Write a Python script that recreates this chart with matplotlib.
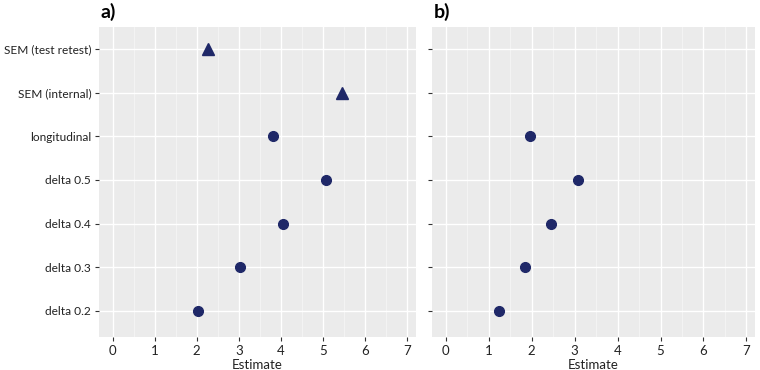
import matplotlib
matplotlib.use("Agg")
import matplotlib.pyplot as plt
from matplotlib.ticker import MultipleLocator

plt.rcParams['font.family'] = ['Lato', 'DejaVu Sans']

categories = ["delta 0.2", "delta 0.3", "delta 0.4", "delta 0.5",
              "longitudinal", "SEM (internal)", "SEM (test retest)"]
a_delta_cats = ["delta 0.2", "delta 0.3", "delta 0.4", "delta 0.5", "longitudinal"]
a_delta_vals = [2.03, 3.04, 4.05, 5.07, 3.82]
a_sem_cats = ["SEM (internal)", "SEM (test retest)"]
a_sem_vals = [5.45, 2.26]
b_cats = ["delta 0.2", "delta 0.3", "delta 0.4", "delta 0.5", "longitudinal"]
b_vals = [1.23, 1.84, 2.46, 3.08, 1.96]
x_ticks = [0, 1, 2, 3, 4, 5, 6, 7]
panel_labels = ["a)", "b)"]

color = "#1F2868"
ypos = {c: i + 1 for i, c in enumerate(categories)}

fig = plt.figure(figsize=(7.6, 3.7), dpi=100)
ax_a = fig.add_axes([0.130, 0.089, 0.417, 0.838])
ax_b = fig.add_axes([0.568, 0.089, 0.426, 0.838])

for ax in (ax_a, ax_b):
    ax.set_facecolor("#EBEBEB")
    for s in ax.spines.values():
        s.set_visible(False)
    ax.set_xlim(-0.33, 7.21)
    ax.set_ylim(0.4, 7.5)
    ax.set_xticks(x_ticks)
    ax.set_xticklabels([str(t) for t in x_ticks])
    ax.xaxis.set_minor_locator(MultipleLocator(0.5))
    ax.set_yticks(range(1, len(categories) + 1))
    ax.grid(which="major", color="white", linewidth=1.0)
    ax.grid(which="minor", axis="x", color="white", linewidth=0.5, alpha=0.6)
    ax.set_axisbelow(True)
    ax.tick_params(axis="both", which="major", length=3, color="#333333",
                   labelsize=9.5, labelcolor="#222222", pad=3)
    ax.tick_params(axis="y", which="major", labelsize=8.6, pad=2.5)
    ax.tick_params(axis="both", which="minor", length=0)
    ax.set_xlabel("Estimate", fontsize=9.5, color="#222222", labelpad=1)

ax_a.set_yticklabels(categories)
ax_b.set_yticklabels([])

ax_a.plot(a_delta_vals, [ypos[c] for c in a_delta_cats], "o", color=color,
          markersize=7, linestyle="none")
ax_a.plot(a_sem_vals, [ypos[c] for c in a_sem_cats], "^", color=color,
          markersize=8, linestyle="none")
ax_b.plot(b_vals, [ypos[c] for c in b_cats], "o", color=color,
          markersize=7, linestyle="none")

for ax, lab in zip((ax_a, ax_b), panel_labels):
    ax.text(0.005, 1.02, lab, transform=ax.transAxes, fontsize=14,
            fontweight="bold", ha="left", va="bottom", color="black")

fig.savefig("out.png", dpi=100)
